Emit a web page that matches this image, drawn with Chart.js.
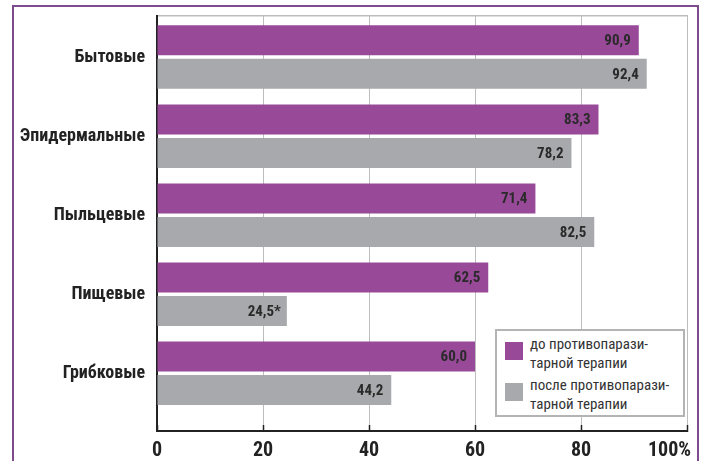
<!DOCTYPE html>
<html lang="ru">
<head>
<meta charset="utf-8">
<script src="https://cdn.jsdelivr.net/npm/chart.js@4/dist/chart.umd.min.js"></script>
<style>
  html, body { margin: 0; padding: 0; background: #fff; }
  #wrap { position: relative; width: 705px; height: 461px; overflow: hidden; }
  #frame { position: absolute; left: 12px; top: 5px; width: 683px; height: 500px;
           border: 2px solid #7e4c8c; box-sizing: content-box; pointer-events: none; }
  #legend { position: absolute; left: 495px; top: 329px; width: 186px; height: 84px;
            border: 2px solid #b4b4b4; background: #fff;
            font-family: Roboto, sans-serif; font-stretch: condensed; font-size: 15px;
            color: #333; line-height: 19px; }
  .item { position: absolute; left: 8px; }
  .item i { position: absolute; left: 0; top: 3px; width: 18px; height: 18px; }
  .item span { position: absolute; left: 25px; top: -4px; white-space: nowrap; }
</style>
</head>
<body>
<div id="wrap">
  <canvas id="barChart"></canvas>
  <div id="frame"></div>
  <div id="legend"></div>
</div>
<script>
const categories = ['Бытовые', 'Эпидермальные', 'Пыльцевые', 'Пищевые', 'Грибковые'];
const beforeValues = [90.9, 83.3, 71.4, 62.5, 60.0];
const afterValues = [92.4, 78.2, 82.5, 24.5, 44.2];
const afterMarks = ['', '', '', '*', ''];
const seriesNames = ['до противопаразитарной терапии', 'после противопаразитарной терапии'];
const legendLines = [['до противопарази-', 'тарной терапии'], ['после противопарази-', 'тарной терапии']];
const xTicks = [0, 20, 40, 60, 80, 100];

const purple = '#984a98';
const grey = '#a8a9ac';
const family = 'Roboto, sans-serif';

const toPoints = (vals) => vals.map((v, i) => ({ x: v, y: i }));
const fmt = (v) => v.toFixed(1).replace('.', ',');

// value labels inside the bar ends
const valueLabels = {
    id: 'valueLabels',
    afterDatasetsDraw(chart) {
        const ctx = chart.ctx;
        ctx.save();
        ctx.font = 'bold condensed 15px ' + family;
        ctx.fillStyle = '#2a2a2a';
        ctx.textAlign = 'right';
        ctx.textBaseline = 'middle';
        chart.data.datasets.forEach((ds, di) => {
            chart.getDatasetMeta(di).data.forEach((bar, i) => {
                const marks = di === 1 ? afterMarks[i] : '';
                const pad = marks ? 6 : 8;
                ctx.fillText(fmt(ds.data[i].x) + marks, bar.x - pad, bar.y + 1);
            });
        });
        ctx.restore();
    }
};

const ctx = document.getElementById('barChart').getContext('2d');
const chartInstance = new Chart(ctx, {
    type: 'bar',
    data: {
        datasets: [{
            label: seriesNames[0],
            data: toPoints(beforeValues),
            backgroundColor: purple
        }, {
            label: seriesNames[1],
            data: toPoints(afterValues),
            backgroundColor: grey
        }]
    },
    options: {
        indexAxis: 'y',
        responsive: true,
        maintainAspectRatio: false,
        animation: false,
        categoryPercentage: 0.847,
        barPercentage: 0.896,
        layout: { padding: { left: 0, top: 16, right: 18, bottom: 0 } },
        plugins: {
            legend: { display: false },
            tooltip: { enabled: false }
        },
        scales: {
            x: {
                type: 'linear',
                min: 0,
                max: 100,
                afterBuildTicks: (s) => { s.ticks = xTicks.map(v => ({ value: v })); },
                afterFit: (s) => { s.height = 30; s.paddingLeft = 0; s.paddingRight = 0; },
                // short dark tick marks pointing up into the plot
                grid: { color: '#bdbdbd', lineWidth: 1, drawTicks: true, tickLength: -6,
                        tickColor: '#222', tickWidth: 1.5 },
                border: { color: '#222', width: 2 },
                ticks: {
                    padding: 14,
                    color: '#222',
                    font: { family: family, size: 20, weight: 'bold condensed' },
                    maxRotation: 0,
                    autoSkip: false,
                    callback: (v) => v === 100 ? '100%\u2003\u2003' : String(v)
                }
            },
            x2: {
                type: 'linear',
                position: 'top',
                min: 0,
                max: 100,
                afterFit: (s) => { s.height = 0; },
                grid: { display: false },
                border: { color: '#bdbdbd', width: 1.5 },
                ticks: { display: false }
            },
            y: {
                type: 'linear',
                reverse: true,
                offset: false,
                min: -0.52,
                max: 4.73,
                z: 1,
                afterBuildTicks: (s) => { s.ticks = categories.map((c, i) => ({ value: i })); },
                afterFit: (s) => { s.width = 157; s.paddingTop = 0; s.paddingBottom = 0; },
                grid: { display: false, drawTicks: false, offset: false },
                border: { color: '#222', width: 2 },
                ticks: {
                    padding: 12,
                    color: '#222',
                    autoSkip: false,
                    font: { family: family, size: 18, weight: 'bold condensed' },
                    callback: (v) => categories[v]
                }
            }
        }
    },
    plugins: [valueLabels]
});

// legend as html, two-line names as in the original
const legendEl = document.getElementById('legend');
chartInstance.data.datasets.forEach((ds, i) => {
    const item = document.createElement('div');
    item.className = 'item';
    item.style.top = (8 + i * 41) + 'px';
    item.innerHTML = '<i style="background:' + ds.backgroundColor + '"></i><span>' +
        legendLines[i].join('<br>') + '</span>';
    legendEl.appendChild(item);
});
</script>
</body>
</html>
